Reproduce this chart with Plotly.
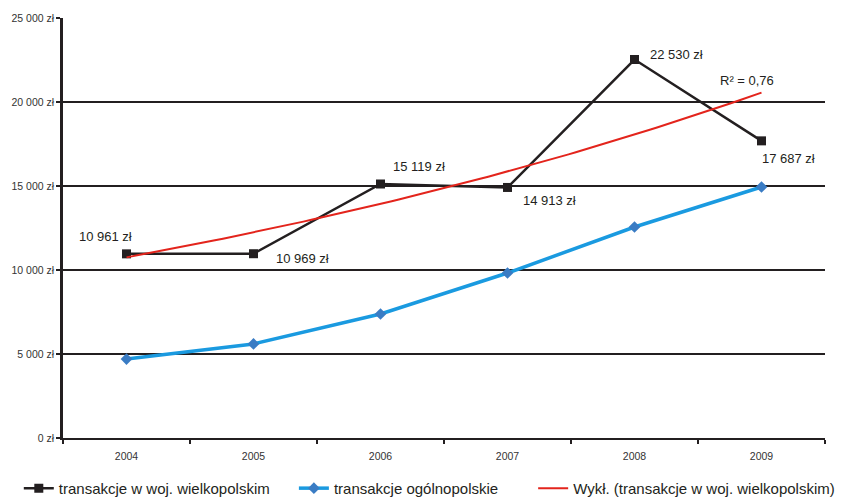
import numpy as np
import plotly.graph_objects as go

# Data
years = ["2004", "2005", "2006", "2007", "2008", "2009"]
wielkopolska = [10961, 10969, 15119, 14913, 22530, 17687]
poland = [4700, 5600, 7380, 9820, 12560, 14940]
value_labels = ["10 961 zł", "10 969 zł", "15 119 zł", "14 913 zł", "22 530 zł", "17 687 zł"]
y_ticks = [0, 5000, 10000, 15000, 20000, 25000]
y_tick_text = ["0 zł", "5 000 zł", "10 000 zł", "15 000 zł", "20 000 zł", "25 000 zł"]

FONT = "Liberation Sans, Arial, sans-serif"
BLACK = "#231f20"
BLUE = "#1a9ae0"
BLUE_MARK = "#3a7cc4"
RED = "#e3241c"

xpos = np.arange(len(years))

# Exponential trend (fit of ln(y) against period number 1..n, as a spreadsheet does)
t = xpos + 1
b, ln_a = np.polyfit(t, np.log(wielkopolska), 1)
fit_ln = ln_a + b * t
ss_res = np.sum((np.log(wielkopolska) - fit_ln) ** 2)
ss_tot = np.sum((np.log(wielkopolska) - np.log(wielkopolska).mean()) ** 2)
r2 = 1 - ss_res / ss_tot
xs = np.linspace(0, len(years) - 1, 80)
trend = np.exp(ln_a + b * (xs + 1))

fig = go.Figure()

fig.add_trace(go.Scatter(
    x=xpos, y=wielkopolska, mode="lines+markers",
    name="transakcje w woj. wielkopolskim",
    line=dict(color=BLACK, width=2.5),
    marker=dict(symbol="square", size=9, color=BLACK),
    legend="legend",
))
fig.add_trace(go.Scatter(
    x=xpos, y=poland, mode="lines+markers",
    name="transakcje ogólnopolskie",
    line=dict(color=BLUE, width=3.5),
    marker=dict(symbol="diamond", size=9, color=BLUE_MARK, line=dict(width=0)),
    legend="legend2",
))
fig.add_trace(go.Scatter(
    x=xs, y=trend, mode="lines",
    name="Wykł. (transakcje w woj. wielkopolskim)",
    line=dict(color=RED, width=2),
    legend="legend3",
))

# Value labels next to each point (pixel offsets)
offsets = [(-21, 17), (49, -5), (38, 18), (42, -13), (42, 5), (27, -18)]
for i, (dx, dy) in enumerate(offsets):
    fig.add_annotation(
        x=xpos[i], y=wielkopolska[i], text=value_labels[i],
        xref="x", yref="y", showarrow=False,
        xshift=dx, yshift=dy,
        font=dict(family=FONT, size=13, color=BLACK),
    )

r2_text = "R² = " + f"{r2:.2f}".replace(".", ",")
fig.add_annotation(
    x=xpos[-1], y=trend[-1], text=r2_text,
    xref="x", yref="y", showarrow=False, xshift=-15, yshift=12,
    font=dict(family=FONT, size=13, color=BLACK),
)

legend_common = dict(
    orientation="h", yanchor="middle", y=-0.12, xanchor="left",
    font=dict(family=FONT, size=15, color=BLACK),
    bgcolor="rgba(0,0,0,0)", itemwidth=30,
)

fig.update_layout(
    width=843, height=497,
    margin=dict(l=63, r=18, t=18, b=59, autoexpand=False),
    paper_bgcolor="white", plot_bgcolor="white",
    font=dict(family=FONT, color=BLACK),
    showlegend=True,
    legend=dict(x=-0.058, **legend_common),
    legend2=dict(x=0.303, **legend_common),
    legend3=dict(x=0.617, **legend_common),
    xaxis=dict(
        range=[-0.5, len(years) - 0.5],
        tickvals=list(xpos), ticktext=years,
        ticks="", showgrid=False, zeroline=False,
        showline=True, linecolor=BLACK, linewidth=2,
        ticklabelstandoff=7,
        tickfont=dict(family=FONT, size=10.5, color="#333333"),
        minor=dict(tickvals=list(np.arange(-0.5, len(years), 1.0)),
                   ticks="outside", ticklen=4, tickcolor=BLACK, tickwidth=2),
        fixedrange=True,
    ),
    yaxis=dict(
        range=[0, 25000], tickvals=y_ticks, ticktext=y_tick_text,
        ticks="outside", ticklen=4, tickcolor=BLACK, tickwidth=1.5,
        showgrid=True, gridcolor=BLACK, gridwidth=1.5,
        zeroline=False, showline=True, linecolor=BLACK, linewidth=2.5,
        tickfont=dict(family=FONT, size=10.5, color="#333333"),
        fixedrange=True,
    ),
)

fig.write_html("out.html")
